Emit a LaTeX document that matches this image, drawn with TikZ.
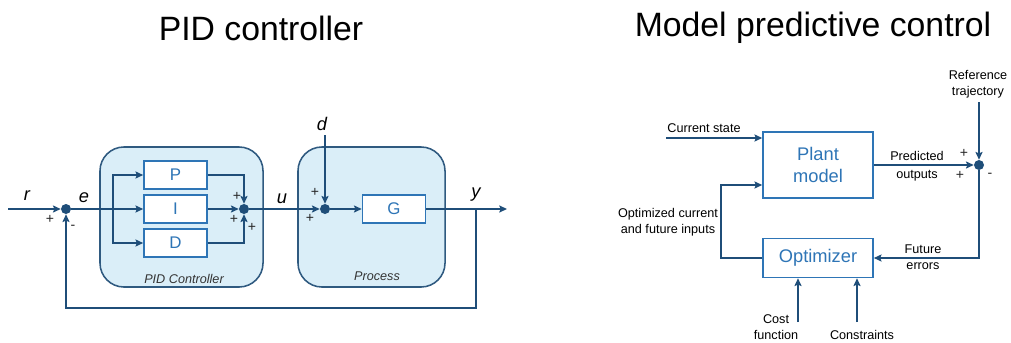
\documentclass[tikz,border=0pt]{standalone}
\usepackage{fontspec}
\setmainfont{Liberation Sans}
\usetikzlibrary{arrows,arrows.meta,positioning,shapes,fit}
\definecolor{wire}{HTML}{1F4E79}
\definecolor{boxline}{HTML}{2E75B6}
\definecolor{boxtext}{HTML}{2E75B6}
\definecolor{groupfill}{HTML}{DAEEF8}
\definecolor{groupline}{HTML}{2F5A80}
\tikzset{
    %Define standard arrow tip
    >={Stealth[length=5.5pt,width=5pt,inset=1pt]},
    %Define style for boxes
    block/.style={
   	rectangle,
   	draw=boxline, line width=1.1pt,
   	fill=white,
   	minimum width=1.575cm,
   	minimum height=0.7cm,
   	font=\fontsize{12}{14}\selectfont,
   	text=boxtext,
   	text centered
   },
    bigblock/.style={
   	block,
   	minimum width=2.75cm,
   	font=\fontsize{13}{15.5}\selectfont,
   	align=center
   },
    group/.style={
   	rectangle,
   	rounded corners=0.6cm,
   	draw=groupline, line width=1.1pt,
   	fill=groupfill,
   	minimum height=3.5cm
   },
    sumpt/.style={
   	circle,
   	fill=wire,
   	inner sep=0pt,
   	minimum size=0.25cm
   },
    % Define arrow style
    pil/.style={
           ->,
           draw=wire,
           line width=1.3pt},
    var/.style={font=\fontsize{13}{15}\selectfont\itshape},
    sgn/.style={font=\fontsize{10}{11}\selectfont, text=black!85},
    lbl/.style={font=\fontsize{9}{11}\selectfont, align=center},
}

\begin{document}
\begin{tikzpicture}[x=0.025cm,y=-0.025cm]
\useasboundingbox (0,0) rectangle (1011,342);
%titles
\node[font=\fontsize{24}{28}\selectfont] (t1) at (261,28) {PID controller};
\node[font=\fontsize{24}{28}\selectfont] (t2) at (813,28) {Model predictive control};
%PID loop
\node[group, minimum width=4.075cm] (pidbox) at (181.5,217) {};
\node[group, minimum width=3.675cm] (procbox) at (371.5,217) {};
\node[lbl, font=\fontsize{9}{11}\selectfont\itshape, text=black!80] at (184,279) {PID Controller};
\node[lbl, font=\fontsize{9}{11}\selectfont\itshape, text=black!80] at (377,276) {Process};
\node[block] (P) at (175.5,175) {P};
\node[block] (I) at (175.5,209) {I};
\node[block] (D) at (175.5,243) {D};
\node[block] (G) at (394,209) {G};
\node[sumpt] (s1) at (66,209) {};
\node[sumpt] (s2) at (244,209) {};
\node[sumpt] (s3) at (325,209) {};
\coordinate (rin) at (8,209);
\coordinate (br) at (113,209);
\coordinate (din) at (325,135);
\coordinate (ybr) at (476,209);
\coordinate (yout) at (507,209);
\coordinate (fb) at (476,308);
\draw[pil] (rin) -- (s1);
\draw[pil] (s1) -- (I);
\draw[pil] (br) |- (P);
\draw[pil] (br) |- (D);
\draw[pil] (P) -| (s2);
\draw[pil] (I) -- (s2);
\draw[pil] (D) -| (s2);
\draw[pil] (s2) -- (s3);
\draw[pil] (din) -- (s3);
\draw[pil] (s3) -- (G);
\draw[pil] (G) -- (yout);
\draw[pil] (ybr) -- (fb) -| (s1);
%signals and signs
\node[var] at (27,196) {r};
\node[var] at (84,198) {e};
\node[var] at (282,199) {u};
\node[var] at (322,124) {d};
\node[var] at (476,195) {y};
\node[sgn] at (50,219) {+};
\node[sgn] at (73,227) {-};
\node[sgn] at (237,196) {+};
\node[sgn] at (234,219) {+};
\node[sgn] at (252,227) {+};
\node[sgn] at (315,192) {+};
\node[sgn] at (310,218) {+};
%MPC loop
\node[bigblock, minimum height=1.65cm] (plant) at (818,165) {Plant\\model};
\node[bigblock, minimum height=0.975cm] (opt) at (818,258) {Optimizer};
\node[sumpt] (s4) at (979,165) {};
\coordinate (cs) at (666,138);
\coordinate (oc) at (721,258);
\coordinate (pin) at (721,185);
\coordinate (rt) at (979,102);
\coordinate (fe) at (979,258);
\coordinate (cf) at (798,322);
\coordinate (cn) at (857,322);
\draw[pil] (cs) -- (cs -| plant.west);
\draw[pil] (opt) -- (oc) -- (pin) -- (pin -| plant.west);
\draw[pil] (plant) -- (s4);
\draw[pil] (rt) -- (s4);
\draw[pil] (s4) -- (fe) -- (opt);
\draw[pil] (cf) -- (cf |- opt.south);
\draw[pil] (cn) -- (cn |- opt.south);
\node[lbl] at (704,128) {Current state};
\node[lbl] at (668,222) {Optimized current\\and future inputs};
\node[lbl] at (917,166) {Predicted\\[2pt]outputs};
\node[lbl] at (978,84) {Reference\\trajectory};
\node[lbl] at (923,257) {Future\\errors};
\node[lbl] at (776,327) {Cost\\function};
\node[lbl] at (862,335) {Constraints};
\node[sgn] at (964,153) {+};
\node[sgn] at (960,175) {+};
\node[sgn] at (990,175) {-};
\end{tikzpicture}
\end{document}
